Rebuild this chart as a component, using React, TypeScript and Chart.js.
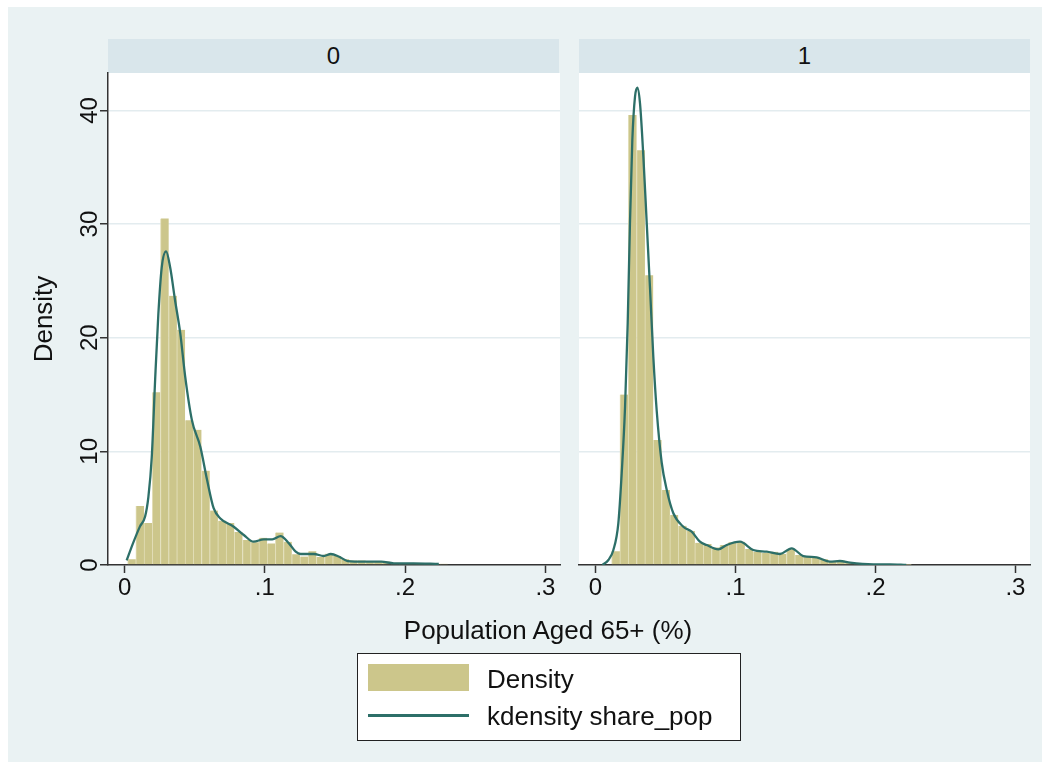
import React, { useEffect, useRef } from 'react';
import { Chart, registerables } from 'chart.js';

Chart.register(...registerables);

// ---- Data ----
const panelLabels = ['0', '1'];
const xTickValues = [0, 0.1, 0.2, 0.3];
const xTickLabels = ['0', '.1', '.2', '.3'];
const yTickValues = [0, 10, 20, 30, 40];
const yTickLabels = ['0', '10', '20', '30', '40'];

// Panel "0" histogram (Density) — bins start / width
const leftBinStart = 0.0022;
const leftBinWidth = 0.00585;
const leftDensity = [
  0.5, 5.2, 3.7, 15.2, 30.5, 23.7, 20.7, 12.75, 11.9, 8.3,
  4.8, 3.9, 3.7, 2.9, 2.2, 2.0, 2.4, 1.9, 2.85, 2.05,
  0.95, 0.75, 1.2, 0.7, 1.0, 0.8, 0.5, 0.4, 0.4, 0.35,
  0.35, 0.3, 0.2, 0.15, 0.15, 0.12, 0.1, 0.1, 0.1,
];

// Panel "1" histogram (Density)
const rightBinStart = 0.0115;
const rightBinWidth = 0.00595;
const rightDensity = [
  1.2, 15.0, 39.6, 36.5, 25.5, 11.0, 6.6, 4.4, 3.45, 3.0,
  1.95, 1.85, 1.55, 1.76, 2.0, 2.05, 1.4, 1.17, 1.05, 1.17,
  0.97, 1.38, 0.88, 0.73, 0.73, 0.5, 0.35, 0.4, 0.2, 0.15,
  0.1, 0.08, 0.08, 0.05, 0.03, 0.03,
];

// kdensity share_pop, panel "0"
const leftKdeX = [
  0.0015, 0.006, 0.011, 0.0146, 0.017, 0.0194, 0.0218, 0.0241, 0.0265, 0.0296,
  0.0325, 0.036, 0.0397, 0.0432, 0.048, 0.054, 0.0588, 0.0635, 0.0683, 0.0778,
  0.085, 0.092, 0.0993, 0.1053, 0.1112, 0.1172, 0.122, 0.1255, 0.135, 0.142,
  0.147, 0.153, 0.159, 0.171, 0.183, 0.192, 0.206, 0.224,
];
const leftKdeY = [
  0.4, 1.9, 3.4, 4.25, 6.0, 9.5, 16.3, 22.1, 26.2, 27.6,
  26.2, 23.3, 20.4, 16.6, 12.75, 10.4, 7.5, 5.0, 4.1, 3.37,
  2.64, 2.05, 2.26, 2.26, 2.55, 1.9, 1.17, 0.97, 0.97, 0.79,
  0.97, 0.73, 0.35, 0.29, 0.29, 0.15, 0.15, 0.1,
];

// kdensity share_pop, panel "1"
const rightKdeX = [
  0.005, 0.0092, 0.0127, 0.0163, 0.0187, 0.0211, 0.023, 0.0246, 0.0263, 0.0282,
  0.0299, 0.0318, 0.0342, 0.0366, 0.039, 0.0413, 0.0437, 0.0473, 0.0509, 0.0556,
  0.0627, 0.0687, 0.0746, 0.0794, 0.0877, 0.0937, 0.1032, 0.1127, 0.1223, 0.1318,
  0.1401, 0.1484, 0.158, 0.1675, 0.1746, 0.1818, 0.1984, 0.2104, 0.222,
];
const rightKdeY = [
  0.0, 0.44, 1.3, 3.67, 8.06, 13.9, 21.3, 30.05, 37.4, 41.2,
  42.0, 40.6, 35.9, 30.05, 24.2, 18.3, 13.6, 9.0, 6.6, 4.55,
  3.37, 2.93, 2.05, 1.76, 1.38, 1.76, 2.05, 1.32, 1.17, 0.97,
  1.47, 0.79, 0.67, 0.29, 0.35, 0.2, 0.06, 0.06, 0.0,
];

const xTitle = 'Population Aged 65+ (%)';
const yTitle = 'Density';
const legendLabels = ['Density', 'kdensity share_pop'];

// ---- Styles ----
const FONT = "'Liberation Sans', Arial, Helvetica, sans-serif";
const OUTER_BG = '#EAF2F3';
const STRIP_BG = '#D9E6EB';
const BAR_FILL = '#CCC68B';
const BAR_EDGE = '#E2DEB8';
const LINE_COLOR = '#2D6F68';
const AXIS_COLOR = '#333333';
const GRID_COLOR = '#E3ECEF';
const TEXT_COLOR = '#111111';

const plotBgPlugin = {
  id: 'plotBg',
  beforeDraw(chart: any) {
    const { ctx, chartArea } = chart;
    ctx.save();
    ctx.fillStyle = '#ffffff';
    ctx.fillRect(chartArea.left, chartArea.top, chartArea.right - chartArea.left, chartArea.bottom - chartArea.top);
    ctx.restore();
  },
};

const yTickLabelPlugin = {
  id: 'yTickLabels',
  afterDraw(chart: any, _args: any, opts: any) {
    if (!opts || !opts.show) return;
    const y = chart.scales.y;
    const ctx = chart.ctx;
    ctx.save();
    ctx.font = `24px ${FONT}`;
    ctx.fillStyle = TEXT_COLOR;
    ctx.textAlign = 'center';
    ctx.textBaseline = 'alphabetic';
    y.ticks.forEach((t: any, i: number) => {
      const py = y.getPixelForValue(t.value);
      ctx.save();
      ctx.translate(y.right - 8 - 3, py);
      ctx.rotate(-Math.PI / 2);
      ctx.fillText(yTickLabels[i], 0, 0);
      ctx.restore();
    });
    ctx.restore();
  },
};

function buildConfig(
  binStart: number,
  binWidth: number,
  density: number[],
  kx: number[],
  ky: number[],
  showY: boolean,
  padding: { left: number; right: number; top: number; bottom: number },
): any {
  const bars = density.map((d, i) => ({ x: binStart + binWidth * (i + 0.5), y: d }));
  const kde = kx.map((x, i) => ({ x, y: ky[i] }));
  return {
    type: 'bar',
    data: {
      datasets: [
        {
          type: 'line',
          label: legendLabels[1],
          data: kde,
          borderColor: LINE_COLOR,
          borderWidth: 2.3,
          pointRadius: 0,
          cubicInterpolationMode: 'monotone',
          fill: false,
          order: 1,
        },
        {
          type: 'bar',
          label: legendLabels[0],
          data: bars,
          backgroundColor: BAR_FILL,
          borderColor: BAR_EDGE,
          borderWidth: { left: 1, right: 0, top: 0, bottom: 0 },
          borderSkipped: false,
          barPercentage: 1,
          categoryPercentage: 1,
          order: 2,
        },
      ],
    },
    options: {
      responsive: false,
      animation: false,
      events: [],
      layout: { padding },
      plugins: {
        legend: { display: false },
        tooltip: { enabled: false },
        yTickLabels: { show: showY },
      },
      scales: {
        x: {
          type: 'linear',
          min: -0.0118,
          max: 0.3104,
          offset: false,
          afterBuildTicks: (s: any) => {
            s.ticks = xTickValues.map((v) => ({ value: v }));
          },
          afterFit: (s: any) => {
            s.height = 55;
          },
          ticks: {
            callback: (_v: any, i: number) => xTickLabels[i],
            font: { family: FONT, size: 24 },
            color: TEXT_COLOR,
            padding: 1,
            maxRotation: 0,
            minRotation: 0,
            autoSkip: false,
          },
          grid: {
            display: true,
            drawOnChartArea: false,
            drawTicks: true,
            tickLength: 8,
            tickColor: AXIS_COLOR,
            tickWidth: 1.5,
            offset: false,
          },
          border: { display: true, color: AXIS_COLOR, width: 1.5 },
        },
        y: {
          type: 'linear',
          min: 0,
          max: 43.3,
          afterBuildTicks: (s: any) => {
            s.ticks = yTickValues.map((v) => ({ value: v }));
          },
          afterFit: (s: any) => {
            s.width = showY ? 100 : 0;
          },
          ticks: { display: false },
          grid: {
            color: (c: any) => (c.tick && c.tick.value === 0 ? 'rgba(0,0,0,0)' : GRID_COLOR),
            lineWidth: 1.5,
            drawTicks: showY,
            tickLength: 8,
            tickColor: AXIS_COLOR,
            tickWidth: 1.5,
          },
          border: { display: showY, color: AXIS_COLOR, width: 1.5 },
          title: {
            display: showY,
            text: yTitle,
            font: { family: FONT, size: 26 },
            color: TEXT_COLOR,
            padding: { top: 21, bottom: 0 },
          },
        },
      },
    },
    plugins: [plotBgPlugin, yTickLabelPlugin],
  };
}

const stripStyle = (left: number): React.CSSProperties => ({
  position: 'absolute',
  left,
  top: 39,
  width: 451,
  height: 34,
  background: STRIP_BG,
  color: TEXT_COLOR,
  fontSize: 24,
  lineHeight: '34px',
  textAlign: 'center',
});

export default function App() {
  const leftRef = useRef<HTMLCanvasElement>(null);
  const rightRef = useRef<HTMLCanvasElement>(null);

  useEffect(() => {
    const c1 = new Chart(
      leftRef.current as HTMLCanvasElement,
      buildConfig(leftBinStart, leftBinWidth, leftDensity, leftKdeX, leftKdeY, true, {
        left: 0,
        right: 6,
        top: 13,
        bottom: 0,
      }),
    );
    const c2 = new Chart(
      rightRef.current as HTMLCanvasElement,
      buildConfig(rightBinStart, rightBinWidth, rightDensity, rightKdeX, rightKdeY, false, {
        left: 7,
        right: 12,
        top: 13,
        bottom: 0,
      }),
    );
    return () => {
      c1.destroy();
      c2.destroy();
    };
  }, []);

  return (
    <div
      style={{
        position: 'absolute',
        left: 0,
        top: 0,
        width: 1050,
        height: 770,
        background: '#ffffff',
        fontFamily: FONT,
        overflow: 'hidden',
      }}
    >
      <div style={{ position: 'absolute', left: 8, top: 7, width: 1034, height: 755, background: OUTER_BG }} />
      <div style={stripStyle(108)}>{panelLabels[0]}</div>
      <div style={stripStyle(579)}>{panelLabels[1]}</div>
      <canvas ref={leftRef} width={558} height={560} style={{ position: 'absolute', left: 8, top: 60 }} />
      <canvas ref={rightRef} width={470} height={560} style={{ position: 'absolute', left: 572, top: 60 }} />
      <div
        style={{
          position: 'absolute',
          left: 348,
          top: 615,
          width: 400,
          textAlign: 'center',
          fontSize: 26,
          lineHeight: '31px',
          color: TEXT_COLOR,
          whiteSpace: 'nowrap',
        }}
      >
        {xTitle}
      </div>
      <div
        style={{
          position: 'absolute',
          left: 357,
          top: 653,
          width: 384,
          height: 88,
          boxSizing: 'border-box',
          border: '1.5px solid #222',
          background: '#ffffff',
        }}
      >
        <div style={{ position: 'absolute', left: 10, top: 10, width: 101, height: 27, background: BAR_FILL }} />
        <div
          style={{
            position: 'absolute',
            left: 129,
            top: 12,
            fontSize: 26,
            lineHeight: '26px',
            color: TEXT_COLOR,
            whiteSpace: 'nowrap',
          }}
        >
          {legendLabels[0]}
        </div>
        <div style={{ position: 'absolute', left: 10, top: 60, width: 101, height: 2.5, background: LINE_COLOR }} />
        <div
          style={{
            position: 'absolute',
            left: 129,
            top: 49,
            fontSize: 26,
            lineHeight: '26px',
            color: TEXT_COLOR,
            whiteSpace: 'nowrap',
          }}
        >
          {legendLabels[1]}
        </div>
      </div>
    </div>
  );
}
